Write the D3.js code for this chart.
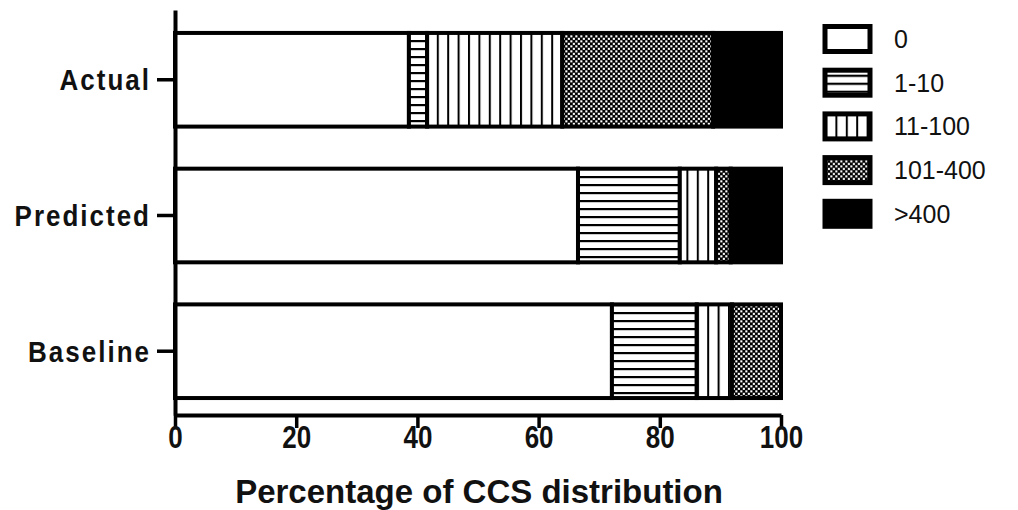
<!DOCTYPE html>
<html>
<head>
<meta charset="utf-8">
<script src="https://cdn.jsdelivr.net/npm/d3@7"></script>
<style>
  body { margin: 0; background: #fff; }
  text { font-family: "Liberation Sans", Arial, sans-serif; fill: #111; }
</style>
</head>
<body>
<script>
// data
var groups = ["Actual", "Predicted", "Baseline"];
var bins = ["0", "1-10", "11-100", "101-400", ">400"];
var actual = [38.6, 3.0, 22.3, 24.9, 11.2];
var predicted = [66.5, 16.8, 6.0, 2.4, 8.3];
var baseline = [72.1, 14.0, 5.8, 8.1, 0];
var xTicks = [0, 20, 40, 60, 80, 100];

var values = { "Actual": actual, "Predicted": predicted, "Baseline": baseline };
var fills = ["#fff", "url(#hl)", "url(#vl)", "url(#ck)", "#000"];

var width = 1018, height = 510;
var svg = d3.select("body").append("svg")
    .attr("width", width)
    .attr("height", height);

// patterns
var defs = svg.append("defs");
var hl = defs.append("pattern").attr("id", "hl").attr("patternUnits", "userSpaceOnUse")
    .attr("width", 10).attr("height", 8);
hl.append("rect").attr("width", 10).attr("height", 8).attr("fill", "#fff");
hl.append("rect").attr("y", 0).attr("width", 10).attr("height", 2.2).attr("fill", "#000");

var vl = defs.append("pattern").attr("id", "vl").attr("patternUnits", "userSpaceOnUse")
    .attr("width", 10.4).attr("height", 10);
vl.append("rect").attr("width", 10.4).attr("height", 10).attr("fill", "#fff");
vl.append("rect").attr("x", 0).attr("width", 2).attr("height", 10).attr("fill", "#000");

var ck = defs.append("pattern").attr("id", "ck").attr("patternUnits", "userSpaceOnUse")
    .attr("width", 5).attr("height", 5);
ck.append("rect").attr("width", 5).attr("height", 5).attr("fill", "#000");
ck.append("rect").attr("x", 0.3).attr("y", 0.3).attr("width", 2.1).attr("height", 2.1).attr("fill", "#fff");
ck.append("rect").attr("x", 2.8).attr("y", 2.8).attr("width", 2.1).attr("height", 2.1).attr("fill", "#fff");

var x = d3.scaleLinear().domain([0, 100]).range([175, 781]);
var y = d3.scaleBand().domain(groups).range([10, 415])
    .paddingInner(0.31).paddingOuter(0.147).align(0.575);

// bars
groups.forEach(function(g) {
  var cum = 0;
  var segs = values[g].map(function(v, i) {
    var s = { g: g, i: i, x0: cum, x1: cum + v };
    cum += v;
    return s;
  }).filter(function(s) { return s.x1 > s.x0; });

  svg.append("g").selectAll("rect")
    .data(segs)
    .join("rect")
    .attr("x", function(d) { return x(d.x0); })
    .attr("y", y(g))
    .attr("width", function(d) { return x(d.x1) - x(d.x0); })
    .attr("height", y.bandwidth())
    .attr("fill", function(d) { return fills[d.i]; })
    .attr("stroke", "#000")
    .attr("stroke-width", 4);
});

// x axis
var xAxis = svg.append("g")
    .attr("transform", "translate(0,415)")
    .call(d3.axisBottom(x).tickValues(xTicks).tickSize(13).tickSizeOuter(0).tickFormat(d3.format("d")));
xAxis.select(".domain").attr("stroke-width", 4).attr("stroke", "#000");
xAxis.selectAll(".tick line").attr("stroke-width", 3.5).attr("stroke", "#000");
xAxis.selectAll(".tick text")
    .attr("y", null)
    .attr("dy", null)
    .attr("transform", "translate(0,33) scale(1,1.18)")
    .attr("font-size", 26)
    .attr("font-weight", "bold")
    .attr("font-family", "Liberation Sans, Arial, sans-serif")
    .attr("fill", "#111");

// y axis
var yAxis = svg.append("g")
    .attr("transform", "translate(175,0)")
    .call(d3.axisLeft(y).tickSize(18).tickSizeOuter(0));
yAxis.select(".domain").attr("stroke-width", 4).attr("stroke", "#000");
yAxis.selectAll(".tick line").attr("stroke-width", 3.5).attr("stroke", "#000");
yAxis.selectAll(".tick text")
    .attr("x", null)
    .attr("dy", "0.36em")
    .attr("transform", "translate(-24,0) scale(1,1.12)")
    .attr("font-size", 26)
    .attr("font-weight", "bold")
    .attr("letter-spacing", 2)
    .attr("font-family", "Liberation Sans, Arial, sans-serif")
    .attr("fill", "#111");

// axis title
svg.append("text")
    .attr("x", 479)
    .attr("y", 503)
    .attr("text-anchor", "middle")
    .attr("font-size", 33)
    .attr("font-weight", "bold")
    .text("Percentage of CCS distribution");

// legend
var leg = svg.append("g").selectAll("g")
    .data(bins)
    .join("g")
    .attr("transform", function(d, i) { return "translate(825," + (39 + i * 43.7) + ")"; });
leg.append("rect")
    .attr("x", 0).attr("y", -12.5)
    .attr("width", 45).attr("height", 25)
    .attr("fill", function(d, i) { return fills[i]; })
    .attr("stroke", "#000")
    .attr("stroke-width", 5);
leg.append("text")
    .attr("x", 69)
    .attr("dy", "0.36em")
    .attr("font-size", 25)
    .text(function(d) { return d; });
</script>
</body>
</html>
